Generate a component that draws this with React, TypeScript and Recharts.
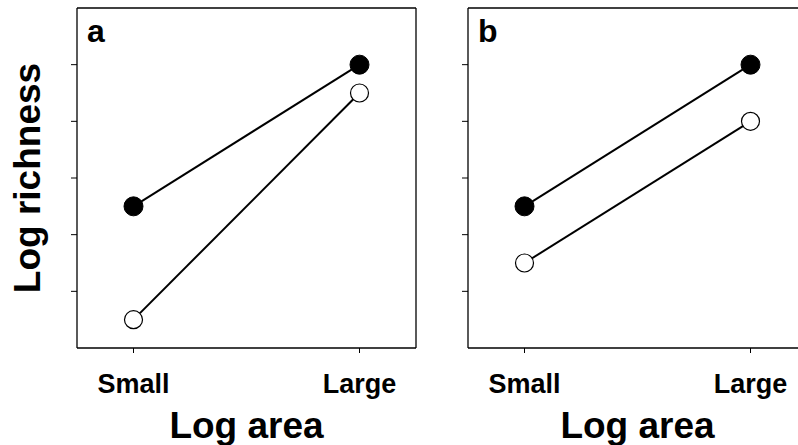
import React from 'react'
import { LineChart, Line, XAxis, YAxis, Customized } from 'recharts'

// categories along the x axis and their positions
const categories = ['Small', 'Large']
const xPos = [0, 1]

// panel a
const aFilled = [2.5, 5]
const aOpen = [0.5, 4.5]

// panel b
const bFilled = [2.5, 5]
const bOpen = [1.5, 4]

const yTicks = [1, 2, 3, 4, 5]

const FONT = '"Liberation Sans", Arial, sans-serif'

const toRows = (filled: number[], open: number[]) =>
  xPos.map((x, i) => ({ x, filled: filled[i], open: open[i] }))

const NoTick = () => <g />

interface PanelProps {
  letter: string
  filled: number[]
  open: number[]
  left: number
  chartWidth: number
  plotLeft: number
  plotRight: number
  xMax: number
  rightBorder?: boolean
  yLabel?: boolean
}

// plot box spans y 8..348, x plotLeft..plotRight inside the chart
function Panel({ letter, filled, open, left, chartWidth, plotLeft, plotRight, xMax, rightBorder, yLabel }: PanelProps) {
  const data = toRows(filled, open)
  const rightGap = rightBorder ? 1 : 0
  // the x label sits at the centre of the full panel (b's right edge is cut off)
  const labelX = plotLeft + 169.5
  return (
    <div style={{ position: 'absolute', left, top: 0, width: chartWidth, height: 445 }}>
      <LineChart
        width={chartWidth}
        height={445}
        data={data}
        margin={{ top: 7, left: plotLeft - 10, right: chartWidth - plotRight - rightGap, bottom: 67 }}
        style={{ fontFamily: FONT }}
      >
        <XAxis
          dataKey="x"
          type="number"
          domain={[-0.25, xMax]}
          ticks={xPos}
          tickFormatter={(v: number) => categories[v]}
          height={30}
          tickSize={5}
          tickMargin={21}
          stroke="#000"
          axisLine={{ stroke: '#000', strokeWidth: 1.3 }}
          tickLine={{ stroke: '#000' }}
          tick={{ fontSize: 27, fontWeight: 700, fill: '#000' }}
          interval={0}
          allowDataOverflow
        />
        <XAxis xAxisId="top" orientation="top" dataKey="x" type="number" domain={[-0.25, xMax]}
          height={1} tick={false} tickLine={false} axisLine={{ stroke: '#000', strokeWidth: 1.3 }} />
        <YAxis
          type="number"
          domain={[0, 6]}
          ticks={yTicks}
          width={10}
          tickSize={6}
          axisLine={{ stroke: '#000', strokeWidth: 1.3 }}
          tickLine={{ stroke: '#000' }}
          tick={NoTick}
        />
        {rightBorder && (
          <YAxis yAxisId="right" orientation="right" type="number" domain={[0, 6]}
            width={1} tick={false} tickLine={false} axisLine={{ stroke: '#000', strokeWidth: 1.3 }} />
        )}
        <Line dataKey="filled" stroke="#000" strokeWidth={2} isAnimationActive={false}
          dot={{ r: 9.5, fill: '#000', stroke: '#000', strokeWidth: 1 }} activeDot={false} />
        <Line dataKey="open" stroke="#000" strokeWidth={2} isAnimationActive={false}
          dot={{ r: 9, fill: '#fff', stroke: '#000', strokeWidth: 1.2 }} activeDot={false} />
        <Customized
          component={() => (
            <g fontFamily={FONT} fontWeight={700} fill="#000">
              <text x={plotLeft + 10} y={42} fontSize={32}>{letter}</text>
              <text x={labelX} y={438} fontSize={37} textAnchor="middle">Log area</text>
              {yLabel && (
                <text x={0} y={0} fontSize={37} textAnchor="middle"
                  transform={`translate(40, 178) rotate(-90)`}>Log richness</text>
              )}
            </g>
          )}
        />
      </LineChart>
    </div>
  )
}

export default function App() {
  return (
    <div style={{ position: 'absolute', left: 0, top: 0, width: 798, height: 445, overflow: 'hidden', background: '#fff' }}>
      <Panel letter="a" filled={aFilled} open={aOpen} left={0} chartWidth={420} plotLeft={77} plotRight={416} xMax={1.25} rightBorder yLabel />
      <Panel letter="b" filled={bFilled} open={bOpen} left={378} chartWidth={440} plotLeft={90} plotRight={429} xMax={1.25} />
    </div>
  )
}
